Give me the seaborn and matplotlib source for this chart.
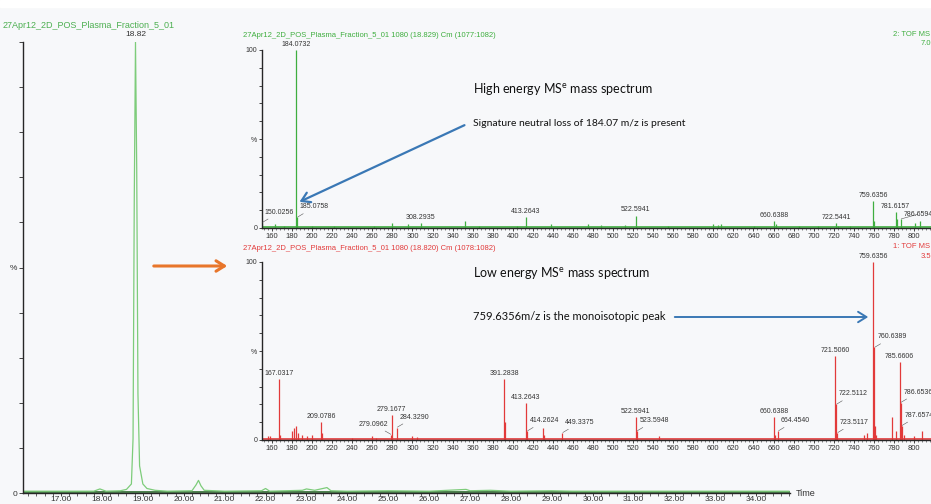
import matplotlib
matplotlib.use("Agg")
import matplotlib.pyplot as plt
from matplotlib.ticker import MultipleLocator
from matplotlib.patches import FancyArrowPatch, Rectangle
import seaborn as sns

# TIC chromatogram, retention time (min) vs relative intensity (%)
rt_min = [16.1, 17.0, 17.8, 17.95, 18.1, 18.45, 18.6, 18.72, 18.76, 18.79, 18.82,
          18.85, 18.88, 18.92, 19.0, 19.1, 19.3, 19.6, 20.2, 20.3, 20.36, 20.42,
          20.5, 21.0, 21.9, 22.0, 22.1, 22.9, 23.0, 23.2, 23.4, 23.5, 23.6, 24.0,
          25.0, 26.0, 26.9, 27.0, 27.5, 28.0, 29.0, 29.5, 30.0, 34.8]
rt_pct = [0.4, 0.4, 0.4, 0.9, 0.4, 0.5, 0.8, 2, 12, 65, 100,
          72, 22, 6, 2, 1, 0.6, 0.4, 0.5, 1.8, 2.8, 1.6,
          0.6, 0.4, 0.5, 1.0, 0.4, 0.6, 0.9, 0.6, 1.0, 1.2, 0.5, 0.4,
          0.5, 0.4, 0.8, 0.5, 0.6, 0.4, 0.5, 0.4, 0.4, 0.4]
rt_ticks = [17, 18, 19, 20, 21, 22, 23, 24, 25, 26, 27, 28, 29, 30, 31, 32, 33, 34]

# high energy MSe spectrum (green)
hi_mz = [150.0256, 163, 172, 184.0732, 185.0758, 200, 222, 262, 280, 296, 308.2935,
         352, 366, 404, 413.2643, 438, 475, 488, 512, 522.5941, 555, 600, 605, 608,
         641, 660.6388, 662, 685, 704, 722.5441, 724, 736, 759.6356, 760.64,
         781.6157, 782.62, 786.6594, 801, 806]
hi_pct = [3, 2, 1, 100, 6, 1, 1, 1, 3, 2, 3,
          4, 1, 1, 6, 2, 2, 1.5, 1.5, 7, 1, 2, 1.5, 2,
          1, 4, 2, 1, 1, 3, 1, 1, 15, 4,
          9, 5, 5, 3, 4]
hi_lab_mz = [150.0256, 184.0732, 185.0758, 308.2935, 413.2643, 522.5941, 660.6388,
             722.5441, 759.6356, 781.6157, 786.6594]
hi_lab_pct = [3, 100, 6, 3, 6, 7, 4, 3, 15, 9, 5]
hi_lab_pos = ["r", "c", "r", "c", "c", "c", "c", "c", "c", "c", "R"]

# low energy MSe spectrum (red)
lo_mz = [156, 158, 167.0317, 168.03, 180, 182, 184.07, 186, 190, 195, 200,
         209.0786, 210.08, 240, 260, 264, 279.0962, 279.1677, 284.329, 300, 305,
         391.2838, 392.29, 413.2643, 414.2624, 430.3, 431, 449.3375, 522.5941,
         523.5948, 546, 660.6388, 661.6, 664.454, 721.506, 722.5112, 723.5117,
         750, 753, 759.6356, 760.6389, 761.6, 762, 778, 782, 785.6606, 786.6536,
         787.6574, 790, 800, 808]
lo_pct = [2, 2, 34, 3, 5, 7, 8, 4, 3, 2, 3,
          10, 4, 1, 2, 1, 3, 14, 7, 2, 1.5,
          34, 10, 21, 5, 7, 3, 4, 13,
          5, 2, 13, 3, 5, 47, 20, 4,
          3, 4, 100, 52, 8, 3, 13, 5, 44, 21,
          8, 3, 2, 5]
lo_lab_mz = [167.0317, 209.0786, 279.0962, 279.1677, 284.329, 391.2838, 413.2643,
             414.2624, 449.3375, 522.5941, 523.5948, 660.6388, 664.454, 721.506,
             722.5112, 723.5117, 759.6356, 760.6389, 785.6606, 786.6536, 787.6574]
lo_lab_pct = [34, 10, 3, 14, 7, 34, 21, 5, 4, 13, 5, 13, 5, 47, 20, 4, 100, 52, 44, 21, 8]
lo_lab_pos = ["c", "c", "l", "c", "r", "c", "c", "r", "r", "c", "r", "c", "r", "c",
              "r", "r", "c", "r", "c", "r", "r"]

BG = "#f7f8fa"
GREEN_TIC = "#7dcc7a"
GREEN = "#3fae3f"
RED = "#e23a3a"
BLUE = "#3a78b5"
ORANGE = "#e8762b"
W, H = 931, 504

sns.set_style("ticks")
plt.rcParams["font.family"] = ["Liberation Sans Narrow", "Liberation Sans", "DejaVu Sans"]
plt.rcParams["axes.linewidth"] = 1.0


def box(x0, y0, x1, y1):
    return [x0 / W, 1 - y1 / H, (x1 - x0) / W, (y1 - y0) / H]


def fpt(x, y):
    return (x / W, 1 - y / H)


fig = plt.figure(figsize=(W / 100, H / 100), dpi=100, facecolor=BG)
fig.patches.append(Rectangle((0, 1 - 7 / H), 1, 7 / H, transform=fig.transFigure,
                             color="white", zorder=0))

# ---- main chromatogram
ax = fig.add_axes(box(23, 42, 790, 493))
ax.set_facecolor(BG)
sns.lineplot(x=rt_min, y=rt_pct, ax=ax, color=GREEN_TIC, lw=0.9)
ax.axhline(0.3, color="#2e6b2e", lw=1.2, zorder=1)
ax.set_xlim(16.07, 34.82)
ax.set_ylim(0, 100)
ax.set_xticks(rt_ticks)
ax.set_xticklabels([f"{t:.2f}" for t in rt_ticks], fontsize=6, color="#333")
ax.xaxis.set_minor_locator(MultipleLocator(0.2))
ax.set_yticks(range(0, 101, 10))
ax.set_yticklabels(["0", "", "", "", "", "%", "", "", "", "", ""], fontsize=6, color="#333")
ax.tick_params(axis="y", which="major", length=3, width=0.6, pad=1)
ax.tick_params(axis="x", which="major", length=2.5, width=0.6, pad=0)
ax.tick_params(axis="x", which="minor", length=2, width=0.5)
sns.despine(ax=ax)
ax.set_xlabel("")
ax.text(34.95, 0, "Time", fontsize=6.5, color="#333", va="center", ha="left", clip_on=False)
ax.text(18.82, 100.8, "18.82", fontsize=6, color="#333", ha="center", va="bottom", clip_on=False)
fig.text(3 / W, 1 - 25 / H, "27Apr12_2D_POS_Plasma_Fraction_5_01", fontsize=6.5,
         color="#4caf50", va="center")


def spectrum(rect, mz, pct, lab_mz, lab_pct, lab_pos, color, title, scan, scale):
    a = fig.add_axes(rect)
    a.set_facecolor(BG)
    a.vlines(mz, 0, pct, color=color, lw=0.9)
    a.axhline(0.4, color=color, lw=1.2)
    a.set_xlim(150, 817)
    a.set_ylim(0, 100)
    a.xaxis.set_minor_locator(MultipleLocator(4))
    a.set_xticks(range(160, 801, 20))
    a.set_xticklabels([str(t) for t in range(160, 801, 20)], fontsize=5.5, color="#333")
    a.set_yticks(range(0, 101, 10))
    a.set_yticklabels(["0", "", "", "", "", "%", "", "", "", "", "100"], fontsize=5, color="#333")
    a.tick_params(axis="both", which="major", length=2.5, width=0.6, pad=1)
    a.tick_params(axis="x", which="minor", length=1.5, width=0.4)
    sns.despine(ax=a)
    for m, p, pos in zip(lab_mz, lab_pct, lab_pos):
        txt = f"{m:.4f}"
        if pos == "c":
            a.annotate(txt, (m, p), xytext=(0, 1.5), textcoords="offset points",
                       ha="center", va="bottom", fontsize=5, color="#333")
        else:
            dx = -2.5 if pos == "l" else 2
            dy = 1 if pos == "R" else 5
            a.annotate(txt, (m, p), xytext=(dx, dy), textcoords="offset points",
                       ha="right" if pos == "l" else "left", va="bottom", fontsize=5,
                       color="#333",
                       arrowprops=dict(arrowstyle="-", lw=0.4, color="#555",
                                       shrinkA=0, shrinkB=0.5))
    ytop = rect[1] + rect[3]
    fig.text(243 / W, ytop + 14 / H, title, fontsize=5.5, color=color, va="center")
    fig.text(893 / W, ytop + 15 / H, scan, fontsize=5.5, color=color, va="center")
    fig.text(921 / W, ytop + 6 / H, scale, fontsize=5.5, color=color, va="center")
    return a


ax_hi = spectrum(box(262, 50, 931, 228), hi_mz, hi_pct, hi_lab_mz, hi_lab_pct, hi_lab_pos,
                 GREEN, "27Apr12_2D_POS_Plasma_Fraction_5_01 1080 (18.829) Cm (1077:1082)",
                 "2: TOF MS ES+", "7.08e4")
ax_lo = spectrum(box(262, 262, 931, 440), lo_mz, lo_pct, lo_lab_mz, lo_lab_pct, lo_lab_pos,
                 RED, "27Apr12_2D_POS_Plasma_Fraction_5_01 1080 (18.820) Cm (1078:1082)",
                 "1: TOF MS ES+", "3.59e4")

# ---- call-outs
fig.text(473 / W, 1 - 89 / H, r"High energy MS$\mathregular{^e}$ mass spectrum",
         family="Lato", fontsize=9, color="#111", va="center")
fig.text(473 / W, 1 - 124 / H, "Signature neutral loss of 184.07 m/z is present",
         family="Lato", fontsize=7.5, color="#111", va="center")
fig.text(473 / W, 1 - 273 / H, r"Low energy MS$\mathregular{^e}$ mass spectrum",
         family="Lato", fontsize=9, color="#111", va="center")
fig.text(473 / W, 1 - 316 / H, "759.6356m/z is the monoisotopic peak",
         family="Lato", fontsize=8, color="#111", va="center")

for p0, p1, c, lw in [((467, 124), (297, 203), BLUE, 1.6),
                      ((672, 317), (871, 317), BLUE, 1.4),
                      ((151, 266), (230, 266), ORANGE, 2.2)]:
    fig.add_artist(FancyArrowPatch(fpt(*p0), fpt(*p1), transform=fig.transFigure,
                                   arrowstyle="->,head_length=4,head_width=2.5",
                                   color=c, lw=lw, mutation_scale=1.5))

fig.savefig("out.png", dpi=100, facecolor=BG)
